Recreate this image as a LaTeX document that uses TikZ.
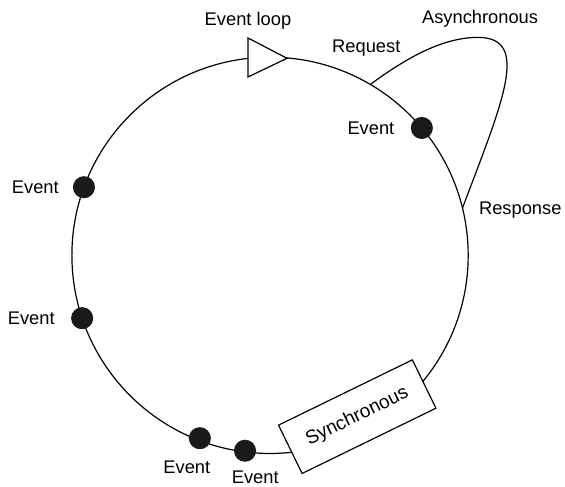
\documentclass[tikz,border=0pt]{standalone}
\usepackage{fontspec}
\setmainfont{Liberation Sans}
\usepackage{tikz}
\usetikzlibrary{calc}
\usetikzlibrary{positioning}
\definecolor{ink}{RGB}{26, 26, 26}

\begin{document}
\begin{tikzpicture}[line width=0.6pt,
        event/.style={circle, fill=ink, inner sep=0pt, minimum size=0.39cm},
        lbl/.style={inner sep=0pt, font=\fontsize{9.2}{11}\selectfont},
        syncbox/.style={draw, fill=white, inner sep=0pt, minimum width=2.63cm, minimum height=0.95cm, font=\fontsize{9.6}{11}\selectfont}]
            \useasboundingbox (-4.77,-4.08) rectangle (5.21,4.51);
            % the loop
            \coordinate (ctr) at (0.00, 0.00);
            \draw (ctr) circle (3.50cm);
            \coordinate (req)  at ($(ctr)+(59.6:3.50cm)$);
            \coordinate (resp) at ($(ctr)+(13.8:3.50cm)$);
            \filldraw[fill=white] (-0.39, 3.84) -- (0.30, 3.48) -- (-0.39, 3.15) -- cycle;
            \node[lbl] (looplbl) at (-0.39, 4.15) {Event loop};
            % asynchronous branch
            \draw (req) .. controls (2.48, 3.54) and (3.09, 3.85) .. (3.68, 3.85)
                        .. controls (4.60, 3.84) and (4.12, 2.74) .. (resp);
            \node[lbl] (reqlbl)   at (1.70, 3.66) {Request};
            \node[lbl] (asynclbl) at (3.71, 4.17) {Asynchronous};
            \node[lbl] (resplbl)  at (4.42, 0.80) {Response};
            % synchronous part
            \node[syncbox, rotate=26] (sync) at (1.54,-2.85) {Synchronous};
            % events
            \node[event] (ev1) at ($(ctr)+( 40.0:3.50cm)$) {};
            \node[event] (ev2) at ($(ctr)+(159.9:3.50cm)$) {};
            \node[event] (ev3) at ($(ctr)+(198.5:3.50cm)$) {};
            \node[event] (ev4) at ($(ctr)+(249.0:3.46cm)$) {};
            \node[event] (ev5) at ($(ctr)+(262.7:3.48cm)$) {};
            \node[lbl, left=0.27cm of ev1] (ev1lbl) {Event};
            \node[lbl, left=0.23cm of ev2] (ev2lbl) {Event};
            \node[lbl, left=0.27cm of ev3] (ev3lbl) {Event};
            \node[lbl, below=0.19cm of ev4, xshift=-0.23cm] (ev4lbl) {Event};
            \node[lbl, below=0.14cm of ev5, xshift= 0.18cm] (ev5lbl) {Event};
\end{tikzpicture}
\end{document}
